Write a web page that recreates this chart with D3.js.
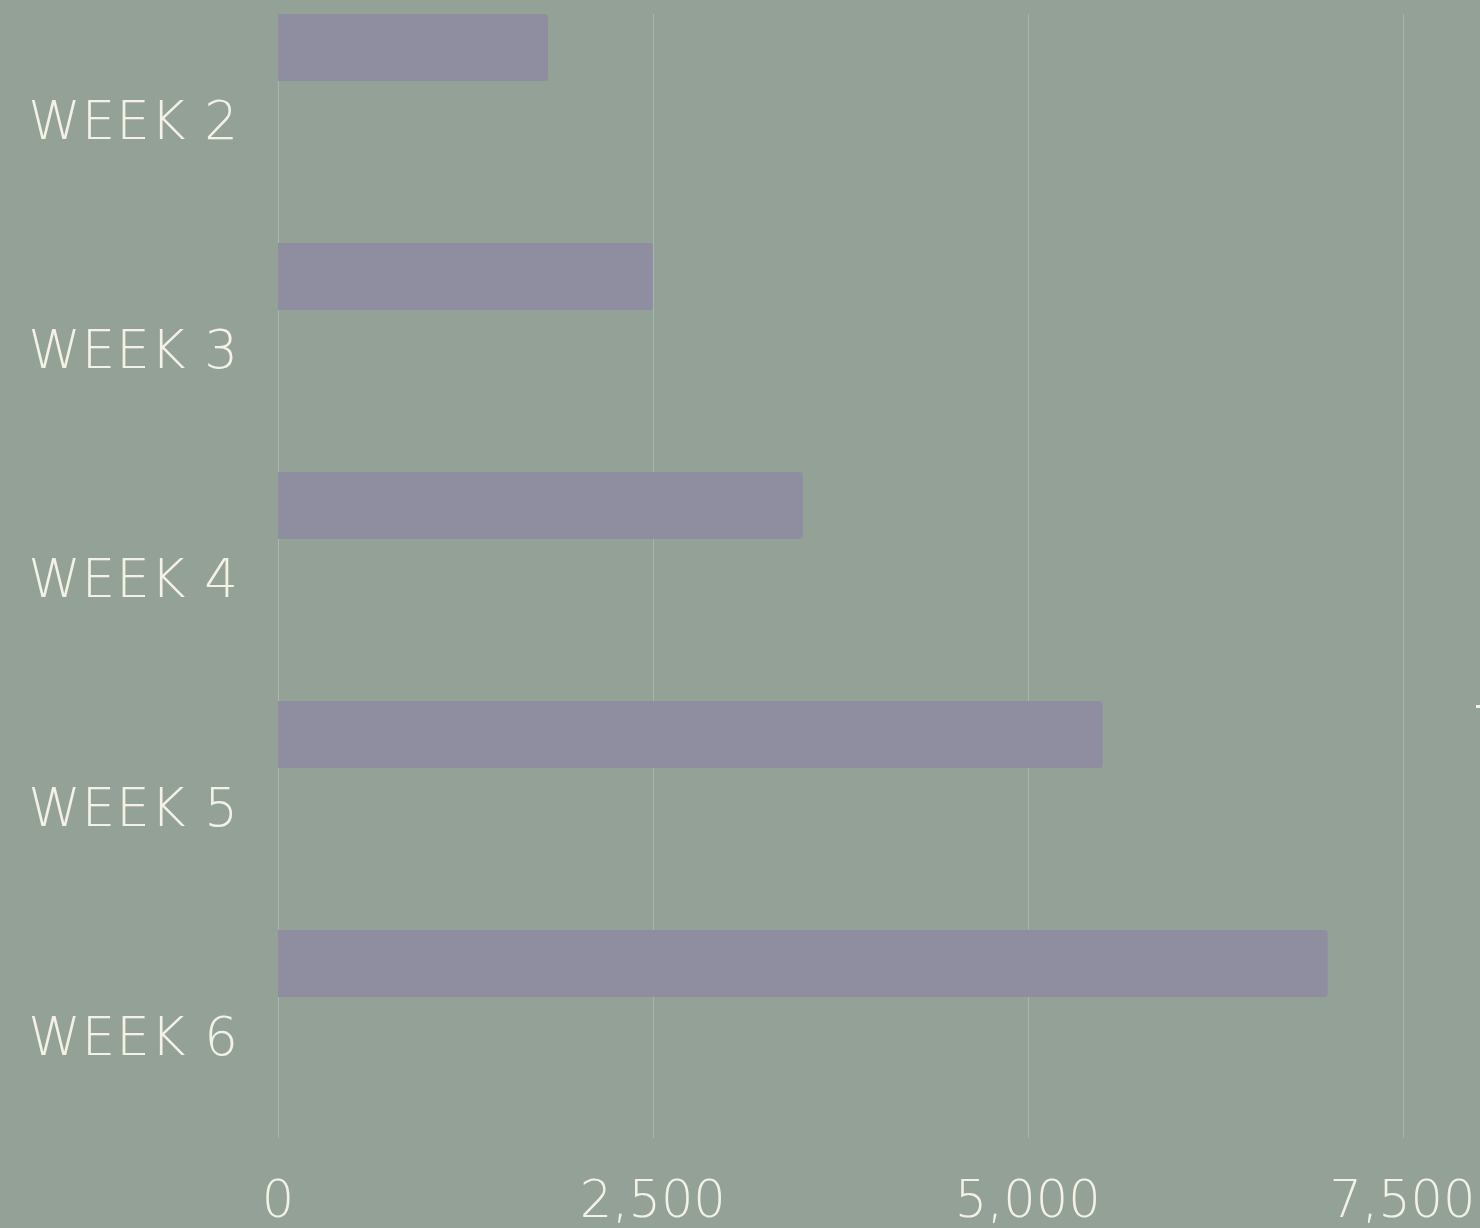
<!DOCTYPE html>
<html>
<head>
<meta charset="utf-8">
<script src="https://cdn.jsdelivr.net/npm/d3@7"></script>
<style>
  html, body { margin: 0; padding: 0; background: #93a197; }
  svg { display: block; }
  text { font-family: "DejaVu Sans", "Open Sans", sans-serif; font-weight: 300; fill: #f4f2e6; }
</style>
</head>
<body>
<script>
const width = 1480;
const height = 1228;

// data
const weeks = ["WEEK 2", "WEEK 3", "WEEK 4", "WEEK 5", "WEEK 6"];
const values = [1800, 2500, 3500, 5500, 7000];
const xTicks = [0, 2500, 5000, 7500];

const svg = d3.select("body")
  .append("svg")
  .attr("width", width)
  .attr("height", height)
  .style("background-color", "#93a197");

const x = d3.scaleLinear().domain([0, 7500]).range([278, 1402.5]);
const y = d3.scaleBand().domain(weeks).range([14, 14 + 229 * weeks.length]);

// grid lines
svg.append("g")
  .selectAll("line")
  .data(xTicks)
  .join("line")
  .attr("x1", d => Math.round(x(d)) + 0.5)
  .attr("x2", d => Math.round(x(d)) + 0.5)
  .attr("y1", 14)
  .attr("y2", 1138)
  .attr("stroke", "#aab5ad")
  .attr("stroke-width", 1);

// bars with rounded right end
const barH = 67;
const r = 3;
svg.append("g")
  .selectAll("path")
  .data(weeks)
  .join("path")
  .attr("fill", "#8e8ea0")
  .attr("d", (d, i) => {
    const x0 = x(0), x1 = x(values[i]), y0 = y(d), y1 = y0 + barH;
    return `M${x0},${y0}H${x1 - r}Q${x1},${y0} ${x1},${y0 + r}V${y1 - r}Q${x1},${y1} ${x1 - r},${y1}H${x0}Z`;
  });

// category labels
svg.append("g")
  .selectAll("text")
  .data(weeks)
  .join("text")
  .attr("x", 239)
  .attr("y", d => y(d) + 106)
  .attr("dy", "0.36em")
  .attr("text-anchor", "end")
  .style("font-size", "53px")
  .style("letter-spacing", "1px")
  .text(d => d);

// x tick labels
svg.append("g")
  .selectAll("text")
  .data(xTicks)
  .join("text")
  .attr("x", d => x(d))
  .attr("y", 1217)
  .attr("text-anchor", "middle")
  .style("font-size", "51px")
  .text(d => d3.format(",")(d));

// legend marker cut off at the right edge
svg.append("rect")
  .attr("x", 1476)
  .attr("y", 705)
  .attr("width", 10)
  .attr("height", 3)
  .attr("fill", "#f4f2e6");
</script>
</body>
</html>
